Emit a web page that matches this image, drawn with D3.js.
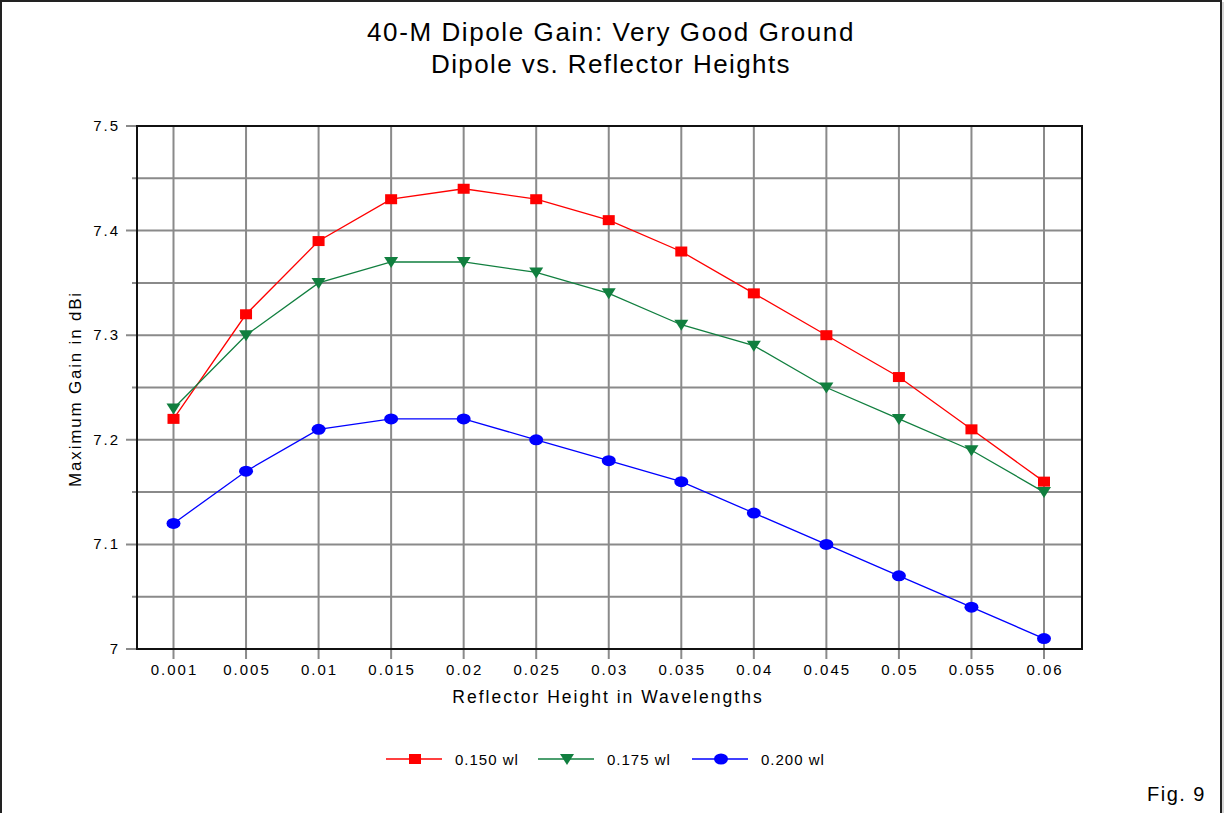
<!DOCTYPE html>
<html>
<head>
<meta charset="utf-8">
<script src="https://cdn.jsdelivr.net/npm/d3@7"></script>
<style>
  body { margin: 0; background: #fff; }
  svg text { font-family: "Liberation Sans", Arial, sans-serif; fill: #000; }
  .grid line { stroke: #8a8a8a; stroke-width: 2; }
</style>
</head>
<body>
<svg id="chart" width="1225" height="813"></svg>
<script>
// reflector height (wavelengths)
const heights = ['0.001','0.005','0.01','0.015','0.02','0.025','0.03','0.035','0.04','0.045','0.05','0.055','0.06'];
// max gain in dBi, one array per dipole height
const gain150 = [7.22, 7.32, 7.39, 7.43, 7.44, 7.43, 7.41, 7.38, 7.34, 7.30, 7.26, 7.21, 7.16];
const gain175 = [7.23, 7.30, 7.35, 7.37, 7.37, 7.36, 7.34, 7.31, 7.29, 7.25, 7.22, 7.19, 7.15];
const gain200 = [7.12, 7.17, 7.21, 7.22, 7.22, 7.20, 7.18, 7.16, 7.13, 7.10, 7.07, 7.04, 7.01];
const yTicks = [7, 7.1, 7.2, 7.3, 7.4, 7.5];
const yMinor = [7.05, 7.15, 7.25, 7.35, 7.45];

const series = [
  {name: '0.150 wl', values: gain150, color: '#ff0000', shape: 'square'},
  {name: '0.175 wl', values: gain175, color: '#117f3f', shape: 'triangle'},
  {name: '0.200 wl', values: gain200, color: '#0000ff', shape: 'circle'}
];

const svg = d3.select('#chart');
const pLeft = 137, pRight = 1082, pTop = 126, pBottom = 649;

// outer frame
svg.append('path')
  .attr('d', 'M1,813 V1 H1221 V813')
  .attr('fill', 'none').attr('stroke', '#222').attr('stroke-width', 2);
svg.append('line').attr('x1', 1223).attr('x2', 1223).attr('y1', 2).attr('y2', 813)
  .attr('stroke', '#aaa').attr('stroke-width', 1);

var x = d3.scalePoint().domain(heights).range([173.5, 1044]);
var y = d3.scaleLinear().domain([7, 7.5]).range([pBottom, pTop]);

// grid
var grid = svg.append('g').attr('class', 'grid');
grid.selectAll('line.v').data(heights).enter().append('line')
  .attr('x1', d => x(d)).attr('x2', d => x(d))
  .attr('y1', pTop).attr('y2', pBottom + 10);
grid.selectAll('line.h').data(yTicks.concat(yMinor)).enter().append('line')
  .attr('x1', d => yTicks.includes(d) ? pLeft - 11 : pLeft - 5).attr('x2', pRight)
  .attr('y1', d => y(d)).attr('y2', d => y(d));

// axes frame
svg.append('rect')
  .attr('x', pLeft).attr('y', pTop).attr('width', pRight - pLeft).attr('height', pBottom - pTop)
  .attr('fill', 'none').attr('stroke', '#111').attr('stroke-width', 2);

// tick labels
svg.selectAll('text.ytick').data(yTicks).enter().append('text')
  .attr('x', pLeft - 17).attr('y', d => y(d) + 5)
  .attr('text-anchor', 'end').attr('font-size', 15).attr('letter-spacing', 2)
  .text(d => d3.format('~g')(d));
svg.selectAll('text.xtick').data(heights).enter().append('text')
  .attr('x', d => x(d) + 1).attr('y', pBottom + 26)
  .attr('text-anchor', 'middle').attr('font-size', 15).attr('letter-spacing', 2)
  .text(d => d);

// titles
svg.append('text').attr('x', 611).attr('y', 41).attr('text-anchor', 'middle')
  .attr('font-size', 26).attr('letter-spacing', 1.6).text('40-M Dipole Gain: Very Good Ground');
svg.append('text').attr('x', 611).attr('y', 73).attr('text-anchor', 'middle')
  .attr('font-size', 26).attr('letter-spacing', 1.4).text('Dipole vs. Reflector Heights');
svg.append('text').attr('x', 608).attr('y', 703).attr('text-anchor', 'middle')
  .attr('font-size', 17.5).attr('letter-spacing', 2).text('Reflector Height in Wavelengths');
svg.append('text').attr('transform', 'translate(81,389) rotate(-90)').attr('text-anchor', 'middle')
  .attr('font-size', 17).attr('letter-spacing', 1.8).text('Maximum Gain in dBi');
svg.append('text').attr('x', 1206).attr('y', 801).attr('text-anchor', 'end')
  .attr('font-size', 20).attr('letter-spacing', 1.5).text('Fig. 9');

function marker(g, shape, color) {
  if (shape === 'square') {
    g.append('rect').attr('x', -6).attr('y', -5).attr('width', 12).attr('height', 10).attr('fill', color);
  } else if (shape === 'triangle') {
    g.append('path').attr('d', 'M-7,-5 L7,-5 L0,6 Z').attr('fill', color);
  } else {
    g.append('ellipse').attr('rx', 7).attr('ry', 5.5).attr('fill', color);
  }
}

var line = d3.line().x((d, i) => x(heights[i])).y(d => y(d));

series.forEach(s => {
  svg.append('path').datum(s.values)
    .attr('d', line).attr('fill', 'none')
    .attr('stroke', s.color).attr('stroke-width', 1.3);
  var pts = svg.selectAll(null).data(s.values).enter().append('g')
    .attr('transform', (d, i) => 'translate(' + x(heights[i]) + ',' + y(d) + ')');
  pts.each(function() { marker(d3.select(this), s.shape, s.color); });
});

// legend
var legX = [386, 538, 692];
series.forEach((s, i) => {
  var g = svg.append('g').attr('transform', 'translate(' + legX[i] + ',759)');
  g.append('line').attr('x1', 0).attr('x2', 56).attr('stroke', s.color).attr('stroke-width', 1.3);
  var m = g.append('g').attr('transform', 'translate(29,0)');
  marker(m, s.shape, s.color);
  g.append('text').attr('x', 69).attr('y', 6).attr('font-size', 15).attr('letter-spacing', 1).text(s.name);
});
</script>
</body>
</html>
